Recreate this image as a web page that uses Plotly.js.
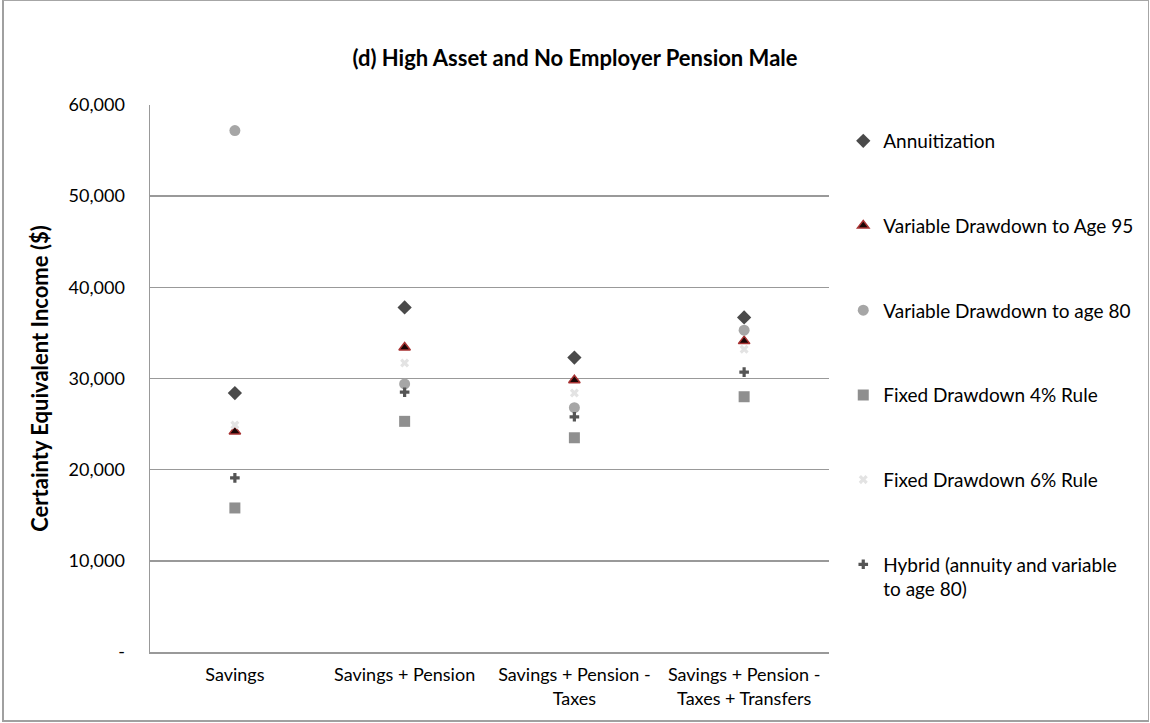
<!DOCTYPE html>
<html>
<head>
<meta charset="utf-8">
<script src="https://cdn.plot.ly/plotly-3.0.1.min.js"></script>
<style>
  html, body { margin: 0; padding: 0; background: #fff; }
  #frame { position: absolute; left: 2px; top: 0px; width: 1144px; height: 719px; border: 1px solid #a6a6a6; border-left: 2px solid #a0a0a0; border-bottom: 2px solid #a0a0a0; }
  #chart { position: absolute; left: 0; top: 0; width: 1150px; height: 723px; }
</style>
</head>
<body>
<div id="frame"></div>
<div id="chart"></div>
<script>
const categories = ["Savings", "Savings + Pension", "Savings + Pension -<br>Taxes", "Savings + Pension -<br>Taxes + Transfers"];
const annuitization = [28400, 37800, 32300, 36700];
const variableTo95 = [24200, 33400, 29800, 34100];
const variableTo80 = [57200, 29400, 26800, 35300];
const fixed4 = [15800, 25300, 23500, 28000];
const fixed6 = [24900, 31700, 28400, 33200];
const hybrid = [19100, 28500, 25800, 30700];
const yTickVals = [0, 10000, 20000, 30000, 40000, 50000, 60000];
const yTickText = ["-", "10,000", "20,000", "30,000", "40,000", "50,000", "60,000"];

const FONT = "Lato, 'Open Sans', sans-serif";

function tr(name, y, marker, group) {
  return { type: "scatter", mode: "markers", x: categories, y: y, name: name,
           legendgroup: group, marker: marker, hoverinfo: "x+y+name" };
}

const data = [
  tr("Annuitization", annuitization, { symbol: "diamond", size: 11, color: "#4a4a4a" }, "g1"),
  tr("Variable Drawdown to Age 95", variableTo95, { symbol: "triangle-up", size: 10, color: "#1a0505", line: { color: "#a83232", width: 1.5 } }, "g2"),
  tr("Variable Drawdown to age 80", variableTo80, { symbol: "circle", size: 11, color: "#a6a6a6" }, "g3"),
  tr("Fixed Drawdown 4% Rule", fixed4, { symbol: "square", size: 11, color: "#8f8f8f" }, "g4"),
  tr("Fixed Drawdown 6% Rule", fixed6, { symbol: "x", size: 8, color: "#e3e3e3" }, "g5"),
  tr("Hybrid (annuity and variable<br>to age 80)", hybrid, { symbol: "cross", size: 8, color: "#555555" }, "g6")
];

const layout = {
  width: 1150, height: 723,
  paper_bgcolor: "rgba(0,0,0,0)", plot_bgcolor: "rgba(0,0,0,0)",
  margin: { l: 150, r: 315, t: 105, b: 71 },
  font: { family: FONT, size: 18, color: "#000" },
  title: { text: "<b>(d) High Asset and No Employer Pension Male</b>", xref: "container", x: 0.5, xanchor: "center", y: 0.92, yanchor: "middle",
           font: { family: FONT, size: 22, color: "#000" } },
  xaxis: { type: "category", range: [-0.5, 3.5], showgrid: false, showline: true, linecolor: "#999", linewidth: 1.5,
           ticks: "outside", ticklen: 6, tickcolor: "rgba(0,0,0,0)", tickfont: { family: FONT, size: 18 }, zeroline: false, fixedrange: true },
  yaxis: { range: [0, 60000], tickvals: yTickVals, ticktext: yTickText, showgrid: true, gridcolor: "#999", gridwidth: 1.5,
           showline: true, linecolor: "#999", linewidth: 1.5, ticks: "", ticklen: 0, zeroline: false,
           tickfont: { family: FONT, size: 18 }, ticklabelstandoff: 20,
           title: { text: "<b>Certainty Equivalent Income ($)</b>", font: { family: FONT, size: 22 }, standoff: 14 } },
  showlegend: true,
  legend: { x: 1.021, xanchor: "left", y: 0.969, yanchor: "top", tracegroupgap: 57, valign: "top",
            font: { family: FONT, size: 19, color: "#000" }, bgcolor: "rgba(0,0,0,0)", itemclick: false, itemdoubleclick: false }
};

Plotly.newPlot("chart", data, layout, { displayModeBar: false, staticPlot: true });
</script>
</body>
</html>
